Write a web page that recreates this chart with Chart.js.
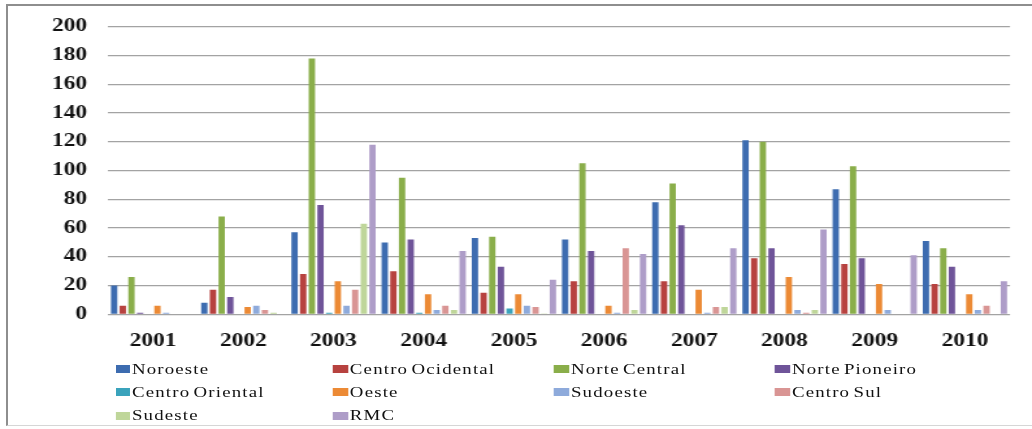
<!DOCTYPE html>
<html>
<head>
<meta charset="utf-8">
<script src="https://cdn.jsdelivr.net/npm/chart.js@4.4.1/dist/chart.umd.min.js"></script>
<style>
  html, body { margin: 0; padding: 0; background: #fff; overflow: hidden; width: 1032px; height: 429px; }
  #frame { position: absolute; left: 6px; top: 4px; width: 1040px; height: 419px;
           border-left: 2px solid #8e8e8e; border-top: 2px solid #8e8e8e; border-bottom: 1px solid #d6d6d6; }
  /* the whole figure is laid out narrow and widened horizontally */
  #stage { position: absolute; left: 0; top: 0; width: 794px; height: 429px;
           transform: scaleX(1.2997); transform-origin: 0 0; }
  #plot { position: absolute; left: 0; top: 0; width: 794px; height: 429px; }
  .item { position: absolute; height: 15px; display: flex; align-items: center;
          font-family: "Liberation Serif", "Times New Roman", Times, "DejaVu Serif";
          font-size: 14.5px; line-height: 15px; letter-spacing: 0.9px; word-spacing: -2px;
          color: #111; white-space: nowrap; }
  .item i { flex: 0 0 11.5px; display: block; width: 11.5px; height: 8px; margin-right: 1.5px; }
</style>
</head>
<body>
<div id="frame"></div>
<div id="stage">
  <div id="plot"><canvas id="c"></canvas></div>
  <div id="legend"></div>
</div>
<script>
// Years on the category axis
const years = ['2001', '2002', '2003', '2004', '2005', '2006', '2007', '2008', '2009', '2010'];

// Regions (one bar series each)
const regions = ['Noroeste', 'Centro Ocidental', 'Norte Central', 'Norte Pioneiro',
                 'Centro Oriental', 'Oeste', 'Sudoeste', 'Centro Sul', 'Sudeste', 'RMC'];

// Yearly values per region
const noroeste        = [20, 8, 57, 50, 53, 52, 78, 121, 87, 51];
const centroOcidental = [6, 17, 28, 30, 15, 23, 23, 39, 35, 21];
const norteCentral    = [26, 68, 178, 95, 54, 105, 91, 120, 103, 46];
const nortePioneiro   = [1, 12, 76, 52, 33, 44, 62, 46, 39, 33];
const centroOriental  = [0, 0, 1, 1, 4, 0, 0, 0, 0, 0];
const oeste           = [6, 5, 23, 14, 14, 6, 17, 26, 21, 14];
const sudoeste        = [1, 6, 6, 3, 6, 1, 1, 3, 3, 3];
const centroSul       = [0, 3, 17, 6, 5, 46, 5, 1, 0, 6];
const sudeste         = [0, 1, 63, 3, 0.5, 3, 5, 3, 0, 0];
const rmc             = [0, 0, 118, 44, 24, 42, 46, 59, 41, 23];

const seriesValues = [noroeste, centroOcidental, norteCentral, nortePioneiro, centroOriental,
                      oeste, sudoeste, centroSul, sudeste, rmc];

// Value axis ticks
const yMin = 0, yMax = 200, yStep = 20;

const colors = ['#3d6cb0', '#b7423f', '#8aae4a', '#6f5499', '#3aa3bc',
                '#ec8a35', '#8eaadb', '#d99594', '#bfd69a', '#ae9dc8'];

const serifStack = '"Liberation Serif", "Times New Roman", Times, "DejaVu Serif"';
const tickFont = { family: serifStack, size: 18, weight: 'bold' };

new Chart(document.getElementById('c'), {
  type: 'bar',
  data: {
    labels: years,
    datasets: regions.map((name, i) => ({
      label: name,
      data: seriesValues[i],
      backgroundColor: colors[i],
      borderWidth: 0,
      categoryPercentage: 0.96,
      barPercentage: 0.73
    }))
  },
  options: {
    responsive: true,
    maintainAspectRatio: false,
    animation: false,
    layout: { padding: { top: 19, right: 16.9, bottom: 74.7, left: 0 } },
    plugins: { legend: { display: false }, tooltip: { enabled: false } },
    scales: {
      x: {
        grid: { display: false, drawTicks: false },
        border: { display: false },
        ticks: { padding: 16, color: '#111', font: tickFont, maxRotation: 0, autoSkip: false },
        afterFit: s => { s.height = 40; }
      },
      y: {
        min: yMin,
        max: yMax,
        grid: { color: '#a3a3a3', lineWidth: 1.3, drawTicks: false },
        border: { display: false },
        ticks: { stepSize: yStep, padding: 16, color: '#111', font: tickFont },
        afterFit: s => { s.width = 83.1; }
      }
    }
  }
});

// Four-column legend below the plot
const colLeft = [88.5, 256.2, 426.3, 596.3];
const rowTop = [361.7, 384.9, 408.1];
const legend = document.getElementById('legend');
regions.forEach((name, i) => {
  const item = document.createElement('div');
  item.className = 'item';
  item.style.left = colLeft[i % 4] + 'px';
  item.style.top = rowTop[Math.floor(i / 4)] + 'px';
  const box = document.createElement('i');
  box.style.background = colors[i];
  item.appendChild(box);
  const label = document.createElement('span');
  label.textContent = name;
  item.appendChild(label);
  legend.appendChild(item);
});
</script>
</body>
</html>
